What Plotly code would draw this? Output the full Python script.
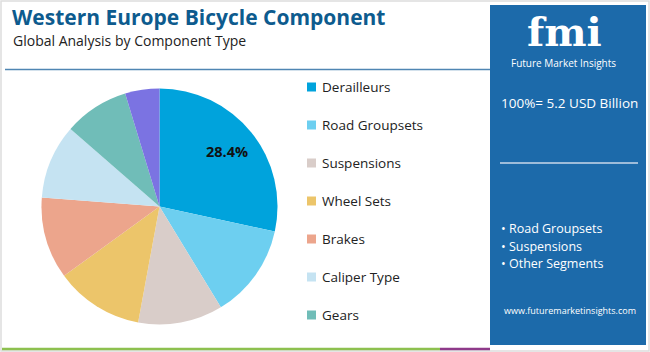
import math
import plotly.graph_objects as go

W, H = 650, 352

labels = ["Derailleurs", "Road Groupsets", "Suspensions", "Wheel Sets",
          "Brakes", "Caliper Type", "Gears", "Others"]
values = [28.4, 12.9, 11.6, 12.1, 11.2, 10.2, 8.9, 4.7]
colors = ["#00a3dc", "#6dcff0", "#d9cdc9", "#ecc56a",
          "#eca58c", "#c5e3f2", "#70bdb8", "#7b73e2"]
legend_labels = labels[:7]
shown_label = [True] + [False] * 7

title = "Western Europe Bicycle Component"
subtitle = "Global Analysis by Component Type"
total_text = "100%= 5.2 USD Billion"
bullets = ["Road Groupsets", "Suspensions", "Other Segments"]
website = "www.futuremarketinsights.com"

def px(x):
    return x / W

def py(y):
    return 1 - y / H

# pie geometry (pixels)
cx, cy, r = 159.5, 206.5, 118

fig = go.Figure()
fig.add_trace(go.Pie(
    labels=labels, values=values, sort=False, direction="clockwise",
    rotation=0, marker=dict(colors=colors, line=dict(width=0)),
    textinfo="none",
    showlegend=False, hoverinfo="label+percent",
    domain=dict(x=[px(cx - r), px(cx + r)], y=[py(cy + r), py(cy - r)]),
))

shapes = []
annotations = []

# slice value labels placed at slice mid-angle
total = sum(values)
cum = 0.0
for v, s in zip(values, shown_label):
    mid = (cum + v / 2) / total * 2 * math.pi
    cum += v
    if s:
        lx = cx + 0.74 * r * math.sin(mid)
        ly = cy - 0.74 * r * math.cos(mid)
        annotations.append(dict(text=f"<b>{v:.1f}%</b>", x=px(lx), y=py(ly), xref="paper", yref="paper",
                                xanchor="center", yanchor="middle", showarrow=False,
                                font=dict(family="Open Sans", size=14.5, color="#111111")))

# outer border
shapes.append(dict(type="rect", xref="paper", yref="paper", x0=px(1), x1=px(649),
                   y0=py(351), y1=py(1), line=dict(color="#dddddd", width=1.5)))
# top rule
shapes.append(dict(type="line", xref="paper", yref="paper", x0=px(5), x1=px(490),
                   y0=py(69.5), y1=py(69.5), line=dict(color="#4f86b3", width=1.5)))
# bottom rule (green to purple)
shapes.append(dict(type="line", xref="paper", yref="paper", x0=px(2), x1=px(440),
                   y0=py(349), y1=py(349), line=dict(color="#8dc04f", width=2.5)))
shapes.append(dict(type="line", xref="paper", yref="paper", x0=px(440), x1=px(490),
                   y0=py(349), y1=py(349), line=dict(color="#8e3a8a", width=2.5)))
# right panel
shapes.append(dict(type="rect", xref="paper", yref="paper", x0=px(490), x1=px(646),
                   y0=py(345), y1=py(5), fillcolor="#1c6aaa", line=dict(width=0),
                   layer="below"))
# panel rule
shapes.append(dict(type="line", xref="paper", yref="paper", x0=px(500), x1=px(638),
                   y0=py(163), y1=py(163), line=dict(color="#c9d9ea", width=1.5)))

# title texts
annotations.append(dict(text=f"<b>{title}</b>", x=px(10), y=py(17), xref="paper", yref="paper",
                        xanchor="left", yanchor="middle", showarrow=False,
                        font=dict(family="Open Sans", size=21, color="#0d5b8e")))
annotations.append(dict(text=subtitle, x=px(11), y=py(41), xref="paper", yref="paper",
                        xanchor="left", yanchor="middle", showarrow=False,
                        font=dict(family="Open Sans", size=14, color="#222222")))

# legend
for i, lab in enumerate(legend_labels):
    yc = 87 + 38 * i
    shapes.append(dict(type="rect", xref="paper", yref="paper", x0=px(307), x1=px(316),
                       y0=py(yc + 4.5), y1=py(yc - 4.5), fillcolor=colors[i], line=dict(width=0)))
    annotations.append(dict(text=lab, x=px(320), y=py(yc), xref="paper", yref="paper",
                            xanchor="left", yanchor="middle", showarrow=False,
                            font=dict(family="Open Sans", size=13.5, color="#222222")))

# logo
annotations.append(dict(text="<b>fmi</b>", x=px(564), y=py(31), xref="paper", yref="paper",
                        xanchor="center", yanchor="middle", showarrow=False,
                        font=dict(family="DejaVu Serif", size=40, color="#ffffff")))
annotations.append(dict(text="Future Market Insights", x=px(563), y=py(63), xref="paper", yref="paper",
                        xanchor="center", yanchor="middle", showarrow=False,
                        font=dict(family="Open Sans", size=10, color="#ffffff")))
annotations.append(dict(text=total_text, x=px(569), y=py(103), xref="paper", yref="paper",
                        xanchor="center", yanchor="middle", showarrow=False,
                        font=dict(family="Open Sans", size=13.5, color="#ffffff")))
for i, b in enumerate(bullets):
    annotations.append(dict(text="• " + b, x=px(499), y=py(229 + 17.2 * i), xref="paper", yref="paper",
                            xanchor="left", yanchor="middle", showarrow=False,
                            font=dict(family="Open Sans", size=12.5, color="#ffffff")))
annotations.append(dict(text=website, x=px(570), y=py(310), xref="paper", yref="paper",
                        xanchor="center", yanchor="middle", showarrow=False,
                        font=dict(family="Open Sans", size=9, color="#ffffff")))

fig.update_layout(
    width=W, height=H, margin=dict(l=0, r=0, t=0, b=0),
    paper_bgcolor="#ffffff", plot_bgcolor="#ffffff",
    shapes=shapes, annotations=annotations,
)

fig.write_html("out.html")
